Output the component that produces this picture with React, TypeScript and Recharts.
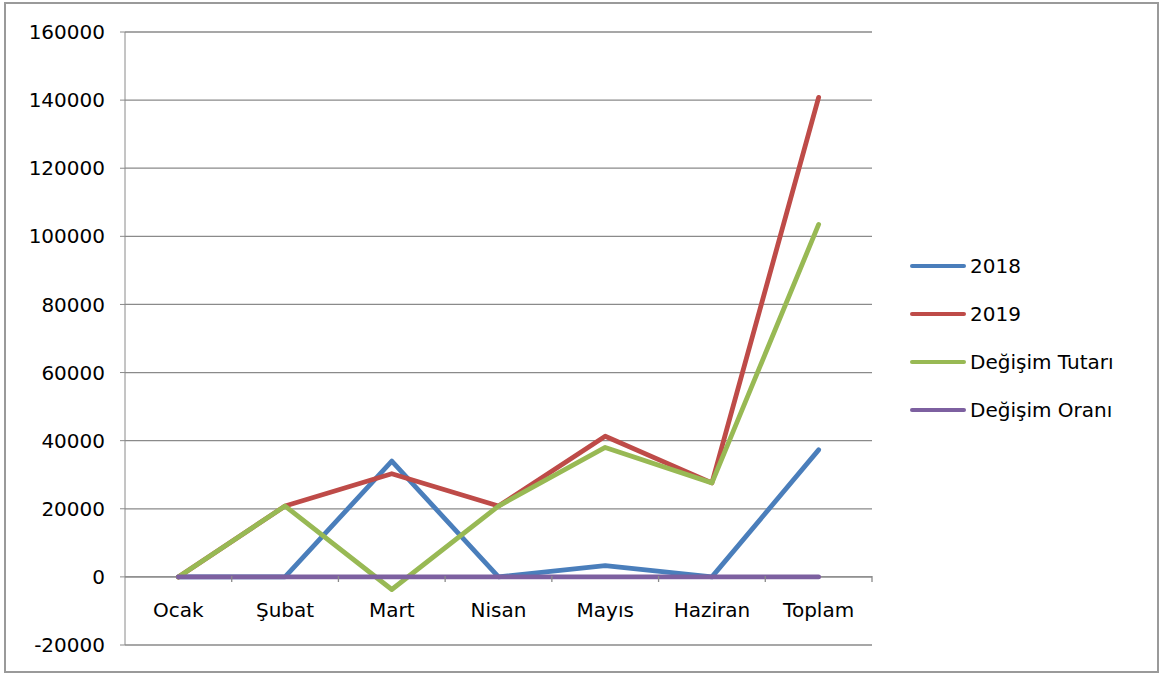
import { LineChart, Line, XAxis, YAxis, CartesianGrid, ReferenceLine } from 'recharts';

const months = ['Ocak', 'Şubat', 'Mart', 'Nisan', 'Mayıs', 'Haziran', 'Toplam'];
const y2018 = [0, 0, 34000, 0, 3300, 0, 37300];
const y2019 = [0, 20800, 30300, 20800, 41300, 27600, 140800];
const tutar = [0, 20800, -3700, 20800, 38000, 27600, 103500];
const oran = [0, 0, 0, 0, 0, 0, 0];
const yTicks = [-20000, 0, 20000, 40000, 60000, 80000, 100000, 120000, 140000, 160000];

const SERIES = [
  { key: 'y2018', name: '2018', color: '#4A7EBB' },
  { key: 'y2019', name: '2019', color: '#BE4B48' },
  { key: 'tutar', name: 'Değişim Tutarı', color: '#98B954' },
  { key: 'oran', name: 'Değişim Oranı', color: '#7D60A0' },
];

const data = months.map((m, i) => ({
  month: m,
  y2018: y2018[i],
  y2019: y2019[i],
  tutar: tutar[i],
  oran: oran[i],
}));

const FONT = '"DejaVu Sans", sans-serif';
const GRID = '#8a8a8a';
const HALF_BAND = 747 / 14;

const MonthTick = (props: any) => {
  const { x, y, payload } = props;
  // labels sit under the zero line, not at the bottom of the plot
  const zeroY = y - 77;
  return (
    <g>
      <line x1={x + HALF_BAND} x2={x + HALF_BAND} y1={zeroY} y2={zeroY + 6} stroke={GRID} strokeWidth={1.3} />
      <text x={x} y={zeroY + 41} textAnchor="middle" fontSize={20} fontFamily={FONT} fill="#000">
        {payload.value}
      </text>
    </g>
  );
};

const LegendBox = () => (
  <div style={{ position: 'absolute', left: 910, top: 242, fontFamily: FONT, fontSize: 20, color: '#000' }}>
    {SERIES.map(s => (
      <div key={s.key} style={{ display: 'flex', alignItems: 'center', height: 48 }}>
        <div style={{ width: 56, height: 4, borderRadius: 2, background: s.color, marginRight: 4 }} />
        <span>{s.name}</span>
      </div>
    ))}
  </div>
);

export default function App() {
  return (
    <div style={{ position: 'absolute', left: 0, top: 0, width: 1163, height: 674, background: '#fff' }}>
      <div style={{ position: 'absolute', left: 4, top: 2, width: 1151, height: 667, border: '2px solid #9a9a9a' }} />
      <div style={{ position: 'absolute', left: 0, top: 0 }}>
        <LineChart width={1163} height={674} data={data} margin={{ top: 32, right: 291, bottom: 0, left: 0 }}>
          <CartesianGrid horizontal vertical={false} stroke={GRID} strokeWidth={1.3} />
          <XAxis
            dataKey="month"
            height={29}
            axisLine={false}
            tickLine={false}
            padding={{ left: HALF_BAND, right: HALF_BAND }}
            tick={<MonthTick />}
            interval={0}
          />
          <YAxis
            width={125}
            domain={[-20000, 160000]}
            ticks={yTicks}
            interval={0}
            stroke={GRID}
            tickSize={5}
            tickMargin={15}
            tick={{ fontSize: 20, fontFamily: FONT, fill: '#000' }}
          />
          <ReferenceLine y={0} stroke={GRID} strokeWidth={1.3} />
          {SERIES.map(s => (
            <Line
              key={s.key}
              type="linear"
              dataKey={s.key}
              name={s.name}
              stroke={s.color}
              strokeWidth={4.8}
              strokeLinecap="round"
              strokeLinejoin="round"
              dot={false}
              activeDot={false}
              isAnimationActive={false}
            />
          ))}
        </LineChart>
      </div>
      <LegendBox />
    </div>
  );
}
